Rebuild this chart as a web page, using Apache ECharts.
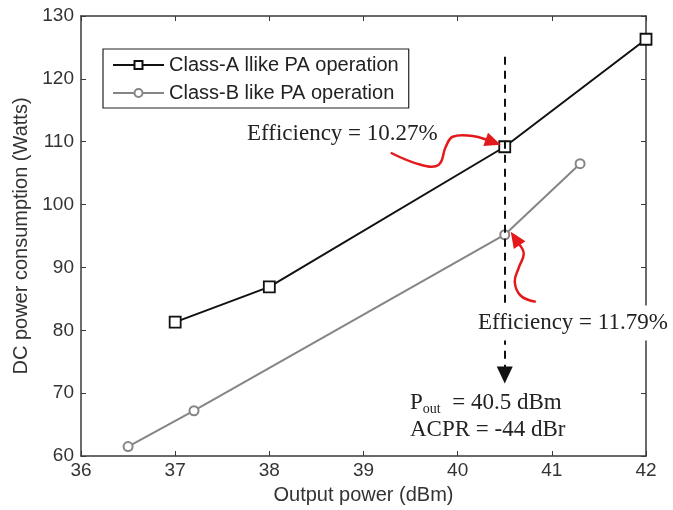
<!DOCTYPE html>
<html>
<head>
<meta charset="utf-8">
<script src="https://cdn.jsdelivr.net/npm/echarts@6/dist/echarts.min.js"></script>
<style>
  html, body { margin: 0; padding: 0; background: #fff; }
  #main { width: 673px; height: 510px; }
</style>
</head>
<body>
<div id="main"></div>
<script>
// values
var powerA = [37, 38, 40.5, 42];
var dcA = [81.3, 86.9, 109.2, 126.3];
var powerB = [36.5, 37.2, 40.5, 41.3];
var dcB = [61.5, 67.2, 95.2, 106.5];
var markerPower = 40.5;
var markerRange = [123.5, 72.9];

var chart = echarts.init(document.getElementById('main'), null, { renderer: 'canvas' });

function pairs(xs, ys) {
  return xs.map(function (x, i) { return [x, ys[i]]; });
}

var axisCol = '#3a3a3a';
var labelFont = { color: '#333', fontSize: 19, fontFamily: 'Liberation Sans' };
var serif = '23px "Liberation Serif"';

var option = {
  animation: false,
  backgroundColor: '#fff',
  grid: { left: 81, right: 27, top: 16, bottom: 54 },
  legend: {
    left: 103, top: 49,
    orient: 'vertical',
    backgroundColor: '#fff',
    borderColor: '#222', borderWidth: 1.2,
    padding: [6, 10, 5, 9],
    itemWidth: 51, itemHeight: 10, itemGap: 8,
    textStyle: { fontSize: 20, color: '#222', fontFamily: 'Liberation Sans', padding: [0, 0, 0, 0] },
    data: ['Class-A llike PA operation', 'Class-B like PA operation']
  },
  xAxis: [{
    type: 'value', min: 36, max: 42, interval: 1,
    name: 'Output power (dBm)', nameLocation: 'middle', nameGap: 29,
    nameTextStyle: { fontSize: 20, color: '#333', fontFamily: 'Liberation Sans' },
    axisLine: { lineStyle: { color: axisCol, width: 1.5 } },
    axisTick: { inside: true, length: 5, lineStyle: { color: axisCol } },
    axisLabel: Object.assign({ margin: 5 }, labelFont),
    splitLine: { show: false }
  }, {
    type: 'value', min: 36, max: 42, interval: 1, position: 'top',
    axisLine: { lineStyle: { color: axisCol, width: 1.5 } },
    axisTick: { inside: true, length: 5, lineStyle: { color: axisCol } },
    axisLabel: { show: false }, splitLine: { show: false }
  }],
  yAxis: [{
    type: 'value', min: 60, max: 130, interval: 10,
    name: 'DC power consumption (Watts)', nameLocation: 'middle', nameGap: 50,
    nameTextStyle: { fontSize: 20, color: '#333', fontFamily: 'Liberation Sans' },
    axisLine: { show: true, lineStyle: { color: axisCol, width: 1.5 } },
    axisTick: { show: true, inside: true, length: 5, lineStyle: { color: axisCol } },
    axisLabel: Object.assign({ margin: 7 }, labelFont),
    splitLine: { show: false }
  }, {
    type: 'value', min: 60, max: 130, interval: 10, position: 'right',
    axisLine: { show: true, lineStyle: { color: axisCol, width: 1.5 } },
    axisTick: { show: true, inside: true, length: 5, lineStyle: { color: axisCol } },
    axisLabel: { show: false }, splitLine: { show: false }
  }],
  series: [{
    name: 'Class-A llike PA operation',
    type: 'line',
    data: pairs(powerA, dcA),
    symbol: 'rect', symbolSize: 11,
    lineStyle: { color: '#111', width: 2 },
    itemStyle: { color: '#fff', borderColor: '#111', borderWidth: 1.8 },
    z: 3,
    markLine: {
      silent: true,
      symbol: ['none', 'triangle'],
      symbolSize: [16, 17],
      lineStyle: { color: '#111', width: 2, type: [8, 6] },
      label: { show: false },
      data: [[{ coord: [markerPower, markerRange[0]] }, { coord: [markerPower, markerRange[1]] }]]
    }
  }, {
    name: 'Class-B like PA operation',
    type: 'line',
    data: pairs(powerB, dcB),
    symbol: 'emptyCircle', symbolSize: 9,
    lineStyle: { color: '#858585', width: 2 },
    itemStyle: { color: '#858585', borderColor: '#858585', borderWidth: 1.6 },
    z: 2
  }]
};

chart.setOption(option);

// red curly arrows pointing at the two operating points
function arrowHead(tip, from, len, wid) {
  var dx = tip[0] - from[0], dy = tip[1] - from[1];
  var d = Math.sqrt(dx * dx + dy * dy);
  var ux = dx / d, uy = dy / d;
  var bx = tip[0] - ux * len, by = tip[1] - uy * len;
  return [tip, [bx - uy * wid / 2, by + ux * wid / 2], [bx + uy * wid / 2, by - ux * wid / 2]];
}

var pA = chart.convertToPixel({ gridIndex: 0 }, [markerPower, dcA[2]]);
var pB = chart.convertToPixel({ gridIndex: 0 }, [markerPower, dcB[2]]);
var red = '#e3191b';

var tipA = [pA[0] - 4, pA[1] - 2];
var curveA = [[tipA[0] - 110, tipA[1] + 8], [tipA[0] - 80, tipA[1] + 20], [tipA[0] - 62, tipA[1] + 20],
  [tipA[0] - 55, tipA[1] + 2], [tipA[0] - 48, tipA[1] - 8], [tipA[0] - 30, tipA[1] - 9], [tipA[0] - 14, tipA[1] - 5]];
var tipB = [pB[0] + 6, pB[1] - 3];
var curveB = [[tipB[0] + 25, tipB[1] + 70], [tipB[0] + 10, tipB[1] + 64], [tipB[0] + 4, tipB[1] + 50],
  [tipB[0] + 8, tipB[1] + 36], [tipB[0] + 13, tipB[1] + 22], [tipB[0] + 8, tipB[1] + 12]];

chart.setOption({
  graphic: [
    { type: 'polyline', z: 50, shape: { points: curveA, smooth: 0.4 }, style: { stroke: red, lineWidth: 2.5, fill: null } },
    { type: 'polygon', z: 50, shape: { points: arrowHead(tipA, curveA[curveA.length - 1], 16, 14) }, style: { fill: red } },
    { type: 'polyline', z: 50, shape: { points: curveB, smooth: 0.4 }, style: { stroke: red, lineWidth: 2.5, fill: null } },
    { type: 'polygon', z: 50, shape: { points: arrowHead(tipB, curveB[curveB.length - 1], 16, 14) }, style: { fill: red } },
    {
      type: 'text', z: 60, x: 247, y: 134,
      style: { text: 'Efficiency = 10.27%', font: serif, fill: '#222', verticalAlign: 'middle' }
    },
    {
      type: 'text', z: 60, x: 478, y: 323,
      style: {
        text: 'Efficiency = 11.79%', font: serif, fill: '#222', verticalAlign: 'middle',
        backgroundColor: '#fff', padding: [6, 2, 6, 0]
      }
    },
    {
      type: 'text', z: 60, x: 410, y: 403,
      style: {
        text: '{b|P}{s|out}{b|  = 40.5 dBm}', verticalAlign: 'middle',
        rich: {
          b: { font: serif, fill: '#222' },
          s: { font: '14px "Liberation Serif"', fill: '#222', padding: [12, 0, 0, 0] }
        }
      }
    },
    {
      type: 'text', z: 60, x: 410, y: 430,
      style: { text: 'ACPR = -44 dBr', font: serif, fill: '#222', verticalAlign: 'middle' }
    }
  ]
});
</script>
</body>
</html>
